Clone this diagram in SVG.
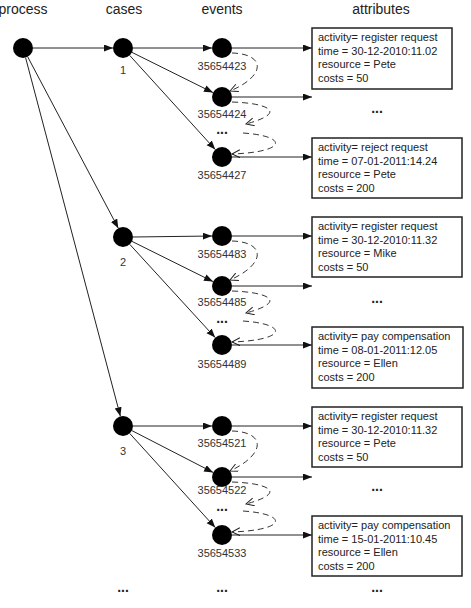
<svg xmlns="http://www.w3.org/2000/svg" width="471" height="608" viewBox="0 0 471 608">
<defs>
<marker id="arr" markerUnits="userSpaceOnUse" markerWidth="10" markerHeight="8" refX="9" refY="3.5" orient="auto">
<path d="M0,0 L9,3.5 L0,7 z" fill="#111"/>
</marker>
<marker id="open" markerUnits="userSpaceOnUse" markerWidth="10" markerHeight="10" refX="8" refY="4" orient="auto">
<path d="M0,0 L8,4 L0,8" fill="none" stroke="#222" stroke-width="1"/>
</marker>
</defs>
<style>
.title{font-family:"Liberation Sans",Arial,sans-serif;font-size:14px;fill:#222;text-anchor:middle}
.lbl{font-family:"Liberation Sans",Arial,sans-serif;font-size:11px;fill:#333;text-anchor:middle}
.att{font-family:"Liberation Sans",Arial,sans-serif;font-size:11px;fill:#222}
.dots{font-family:"Liberation Sans",Arial,sans-serif;font-size:14px;font-weight:bold;fill:#222;text-anchor:middle}
.node{fill:#000}
.box{fill:#fff;stroke:#222;stroke-width:1.5}
.edge{stroke:#222;stroke-width:1;fill:none;marker-end:url(#arr)}
.dash{stroke:#333;stroke-width:1;fill:none;stroke-dasharray:6,4;marker-end:url(#open)}
</style>
<g id="titles">
<text class="title" x="23" y="14">process</text>
<text class="title" x="124" y="14">cases</text>
<text class="title" x="222" y="14">events</text>
<text class="title" x="381" y="14">attributes</text>
</g>
<g id="connectors">
<line class="edge" x1="33" y1="48" x2="113" y2="48"/>
<line class="edge" x1="27.7" y1="56.8" x2="118.3" y2="228.2"/>
<line class="edge" x1="25.6" y1="57.7" x2="120.4" y2="416.3"/>
<line class="edge" x1="133" y1="48" x2="212" y2="48"/>
<line class="edge" x1="132" y1="52.4" x2="213" y2="92.6"/>
<line class="edge" x1="129.7" y1="55.4" x2="215.3" y2="149.6"/>
<line class="edge" x1="133" y1="237" x2="212" y2="236"/>
<line class="edge" x1="132" y1="241.4" x2="213" y2="281.6"/>
<line class="edge" x1="129.8" y1="244.4" x2="215.2" y2="337.6"/>
<line class="edge" x1="133" y1="426" x2="212" y2="426"/>
<line class="edge" x1="131.9" y1="430.6" x2="213.1" y2="472.4"/>
<line class="edge" x1="129.7" y1="433.4" x2="215.3" y2="527.6"/>
<line class="edge" x1="232" y1="48" x2="312" y2="48"/>
<line class="edge" x1="232" y1="97" x2="312" y2="97"/>
<line class="edge" x1="232" y1="157" x2="312" y2="157"/>
<line class="edge" x1="232" y1="236" x2="312" y2="236"/>
<line class="edge" x1="232" y1="286" x2="312" y2="286"/>
<line class="edge" x1="232" y1="345" x2="312" y2="345"/>
<line class="edge" x1="232" y1="426" x2="312" y2="426"/>
<line class="edge" x1="232" y1="477" x2="312" y2="477"/>
<line class="edge" x1="232" y1="535" x2="312" y2="535"/>
<path class="dash" d="M232,53 C266,54 266,76 230,91"/>
<path class="dash" d="M232,102 C266,103 290,112 246,124"/>
<path class="dash" d="M243,133 C288,136 288,152 232,154"/>
<path class="dash" d="M232,241 C266,242 266,264 230,280"/>
<path class="dash" d="M232,291 C266,292 290,301 246,313"/>
<path class="dash" d="M243,321 C288,324 288,340 232,342"/>
<path class="dash" d="M232,431 C266,432 266,454 230,471"/>
<path class="dash" d="M232,482 C266,483 290,492 246,504"/>
<path class="dash" d="M243,511 C288,514 288,530 232,532"/>
</g>
<g id="process">
<circle class="node" cx="23" cy="48" r="10"/>
</g>
<g id="case1">
<circle class="node" cx="123" cy="48" r="10"/>
<text class="lbl" x="123" y="74">1</text>
</g>
<g id="case2">
<circle class="node" cx="123" cy="237" r="10"/>
<text class="lbl" x="123" y="266">2</text>
</g>
<g id="case3">
<circle class="node" cx="123" cy="426" r="10"/>
<text class="lbl" x="123" y="455">3</text>
</g>
<g id="e35654423"><circle class="node" cx="222" cy="48" r="10"/><text class="lbl" x="222" y="70">35654423</text></g>
<g id="e35654424"><circle class="node" cx="222" cy="97" r="10"/><text class="lbl" x="222" y="118">35654424</text></g>
<text class="dots" x="222" y="134">...</text>
<g id="e35654427"><circle class="node" cx="222" cy="157" r="10"/><text class="lbl" x="222" y="179">35654427</text></g>
<g id="e35654483"><circle class="node" cx="222" cy="236" r="10"/><text class="lbl" x="222" y="258">35654483</text></g>
<g id="e35654485"><circle class="node" cx="222" cy="286" r="10"/><text class="lbl" x="222" y="306">35654485</text></g>
<text class="dots" x="222" y="323">...</text>
<g id="e35654489"><circle class="node" cx="222" cy="345" r="10"/><text class="lbl" x="222" y="368">35654489</text></g>
<g id="e35654521"><circle class="node" cx="222" cy="426" r="10"/><text class="lbl" x="222" y="447">35654521</text></g>
<g id="e35654522"><circle class="node" cx="222" cy="477" r="10"/><text class="lbl" x="222" y="494">35654522</text></g>
<text class="dots" x="222" y="511">...</text>
<g id="e35654533"><circle class="node" cx="222" cy="535" r="10"/><text class="lbl" x="222" y="557">35654533</text></g>
<g id="attr1">
<rect class="box" x="312" y="28" width="140" height="61"/>
<text class="att" x="318" y="41">activity= register request</text>
<text class="att" x="318" y="54.5">time = 30-12-2010:11.02</text>
<text class="att" x="318" y="68">resource = Pete</text>
<text class="att" x="318" y="82">costs = 50</text>
</g>
<text class="dots" x="377" y="113">...</text>
<g id="attr2">
<rect class="box" x="312" y="138" width="150" height="60"/>
<text class="att" x="318" y="151">activity= reject request</text>
<text class="att" x="318" y="164.5">time = 07-01-2011:14.24</text>
<text class="att" x="318" y="178">resource = Pete</text>
<text class="att" x="318" y="192">costs = 200</text>
</g>
<g id="attr3">
<rect class="box" x="312" y="217" width="150" height="60"/>
<text class="att" x="318" y="230">activity= register request</text>
<text class="att" x="318" y="243.5">time = 30-12-2010:11.32</text>
<text class="att" x="318" y="257">resource = Mike</text>
<text class="att" x="318" y="271">costs = 50</text>
</g>
<text class="dots" x="377" y="303">...</text>
<g id="attr4">
<rect class="box" x="312" y="327" width="151" height="61"/>
<text class="att" x="318" y="340">activity= pay compensation</text>
<text class="att" x="318" y="353.5">time = 08-01-2011:12.05</text>
<text class="att" x="318" y="367">resource = Ellen</text>
<text class="att" x="318" y="381">costs = 200</text>
</g>
<g id="attr5">
<rect class="box" x="312" y="407" width="150" height="60"/>
<text class="att" x="318" y="420">activity= register request</text>
<text class="att" x="318" y="433.5">time = 30-12-2010:11.32</text>
<text class="att" x="318" y="447">resource = Pete</text>
<text class="att" x="318" y="461">costs = 50</text>
</g>
<text class="dots" x="377" y="491">...</text>
<g id="attr6">
<rect class="box" x="312" y="516" width="150" height="60"/>
<text class="att" x="318" y="529">activity= pay compensation</text>
<text class="att" x="318" y="542.5">time = 15-01-2011:10.45</text>
<text class="att" x="318" y="556">resource = Ellen</text>
<text class="att" x="318" y="570">costs = 200</text>
</g>
<text class="dots" x="123" y="592">...</text>
<text class="dots" x="222" y="592">...</text>
<text class="dots" x="377" y="592">...</text>
</svg>
